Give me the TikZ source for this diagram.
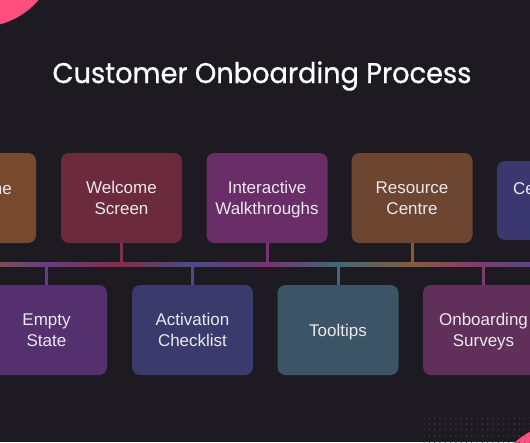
\documentclass[tikz,border=0pt]{standalone}
\usepackage{fontspec}
\setmainfont{Liberation Sans}
\newfontfamily\titlefont[FakeBold=0.8]{Poppins}
\usetikzlibrary{calc}
\definecolor{bg}{HTML}{1E1A22}
\definecolor{pink}{HTML}{FF4F7E}
\definecolor{dotcol}{HTML}{4A4652}
\definecolor{labelcol}{HTML}{ECE8EE}
\definecolor{cBone}{HTML}{774A2E}
\definecolor{cWel}{HTML}{6B2B3D}
\definecolor{cInt}{HTML}{692D68}
\definecolor{cRes}{HTML}{6C4631}
\definecolor{cBfive}{HTML}{3B3870}
\definecolor{cEmp}{HTML}{54306E}
\definecolor{cAct}{HTML}{3A3B6C}
\definecolor{cTool}{HTML}{3B5466}
\definecolor{cSurv}{HTML}{61305A}
\definecolor{sBone}{HTML}{8A5535}
\definecolor{sWel}{HTML}{7D3048}
\definecolor{sInt}{HTML}{7A3272}
\definecolor{sRes}{HTML}{8A5A38}
\definecolor{sBfive}{HTML}{4A4690}
\definecolor{sEmp}{HTML}{6A3A8A}
\definecolor{sAct}{HTML}{4A4A8C}
\definecolor{sTool}{HTML}{3F6878}
\definecolor{sSurv}{HTML}{7E3A75}
\newcommand{\nodepth}[1]{\raisebox{0pt}[\height][0pt]{#1}}
\begin{document}
\begin{tikzpicture}[x=1pt,y=-1pt,
  box/.style={rounded corners=8pt, minimum width=121pt, minimum height=90pt,
    inner sep=0pt, text=labelcol, align=center,
    font=\fontsize{17}{21}\selectfont},
  lbl/.style={inner sep=0pt, text=labelcol, font=\fontsize{17}{21}\selectfont},
  stem/.style={line width=3pt}]
\useasboundingbox (0,0) rectangle (530,442);
\fill[bg] (0,0) rectangle (530,442);
\begin{scope}
\clip (0,0) rectangle (530,442);
% decorative shapes
\fill[pink] (-20,-50) circle (77);
\fill[pink] (560,490) circle (65.5);
\foreach \i in {0,...,20}{
  \foreach \j in {0,...,4}{
    \fill[dotcol] (424+\i*5.3,418+\j*6) circle (0.7);
  }
}
% title
\node[font=\titlefont\fontsize{28.5}{32}\selectfont, text=white, anchor=base, inner sep=0pt] (title) at (262,83) {\scalebox{0.955}[1]{Customer Onboarding Process}};
% top boxes
\node[box, fill=cBone] (bone) at (-24.5,198) {};
\node[lbl, anchor=base east] (bonet) at (12,194) {me};
\node[box, fill=cWel] (welcome) at (121.5,198) {Welcome\\Screen};
\node[box, fill=cInt] (inter) at (267,198) {Interactive\\\nodepth{Walkthroughs}};
\node[box, fill=cRes] (res) at (412,198) {Resource\\Centre};
\node[box, fill=cBfive, minimum height=79pt] (bfive) at (557.5,200.5) {};
\node[lbl, anchor=base west] (bfivet) at (513,194) {Ce};
% bottom boxes
\node[box, fill=cEmp] (empty) at (46.5,330) {Empty\\State};
\node[box, fill=cAct] (act) at (192.5,330) {Activation\\Checklist};
\node[box, fill=cTool] (tool) at (338,330) {\nodepth{Tooltips}};
\node[box, fill=cSurv] (surv) at (483.5,330) {Onboarding\\\nodepth{Surveys}};
% bus junctions
\coordinate (bus) at (0,264);
\foreach \n in {bone,welcome,inter,res,bfive,empty,act,tool,surv}{
  \coordinate (j\n) at (\n.center |- bus);
}
% bus line segments (gradient)
\foreach \a/\b/\ca/\cb in {bone/empty/sBone/sEmp, empty/welcome/sEmp/sWel,
  welcome/act/sWel/sAct, act/inter/sAct/sInt, inter/tool/sInt/sTool,
  tool/res/sTool/sRes, res/surv/sRes/sSurv, surv/bfive/sSurv/sBfive}{
  \shade[left color=\ca, right color=\cb] ($(j\a)+(0,-2)$) rectangle ($(j\b)+(0,2)$);
}
% stems
\draw[stem, sWel] (welcome.south) -- (jwelcome);
\draw[stem, sInt] (inter.south) -- (jinter);
\draw[stem, sRes] (res.south) -- (jres);
\draw[stem, sEmp] (jempty) -- (empty.north);
\draw[stem, sAct] (jact) -- (act.north);
\draw[stem, sTool] (jtool) -- (tool.north);
\draw[stem, sSurv] (jsurv) -- (surv.north);
\end{scope}
\end{tikzpicture}
\end{document}
